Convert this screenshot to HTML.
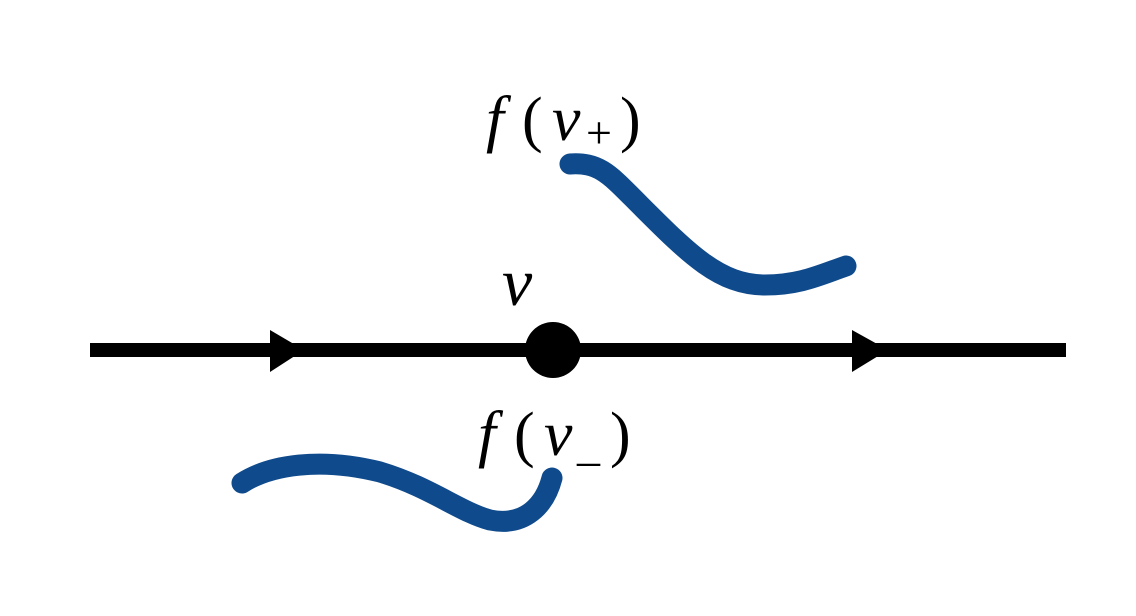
<!DOCTYPE html>
<html><head><style>
html,body{margin:0;padding:0;background:#fff;width:1136px;height:616px;overflow:hidden}
svg{display:block}
text{font-family:"Liberation Serif",serif;font-style:italic;fill:#000}
</style></head><body>
<svg width="1136" height="616" viewBox="0 0 1136 616">
<line x1="90" y1="350" x2="1066" y2="350" stroke="#000" stroke-width="14"/>
<polygon points="270,330 304,350 270,372" fill="#000"/>
<polygon points="852,330 888,350 852,372" fill="#000"/>
<circle cx="553" cy="350" r="28" fill="#000"/>
<path d="M570,164 C600,162 610,175 640,205 C690,255 720,285 765,285 C800,285 820,275 846,266" fill="none" stroke="#0f4a8c" stroke-width="21" stroke-linecap="round"/>
<path d="M242,483 C270,465 320,457 380,472 C430,487 460,512 490,520 C525,527 545,505 552,478" fill="none" stroke="#0f4a8c" stroke-width="21" stroke-linecap="round"/>
<text x="486" y="140" font-size="64">f</text>
<text x="522" y="140" font-size="62" style="font-style:normal">(</text>
<text x="552" y="140" font-size="64">v</text>
<text x="586" y="148" font-size="46" style="font-style:normal">+</text>
<text x="620" y="140" font-size="62" style="font-style:normal">)</text>
<text x="502" y="305" font-size="68">v</text>
<text x="478" y="455" font-size="64">f</text>
<text x="514" y="455" font-size="62" style="font-style:normal">(</text>
<text x="544" y="455" font-size="64">v</text>
<text x="577" y="460" font-size="46" style="font-style:normal">_</text>
<text x="610" y="455" font-size="62" style="font-style:normal">)</text>
</svg>
</body></html>
